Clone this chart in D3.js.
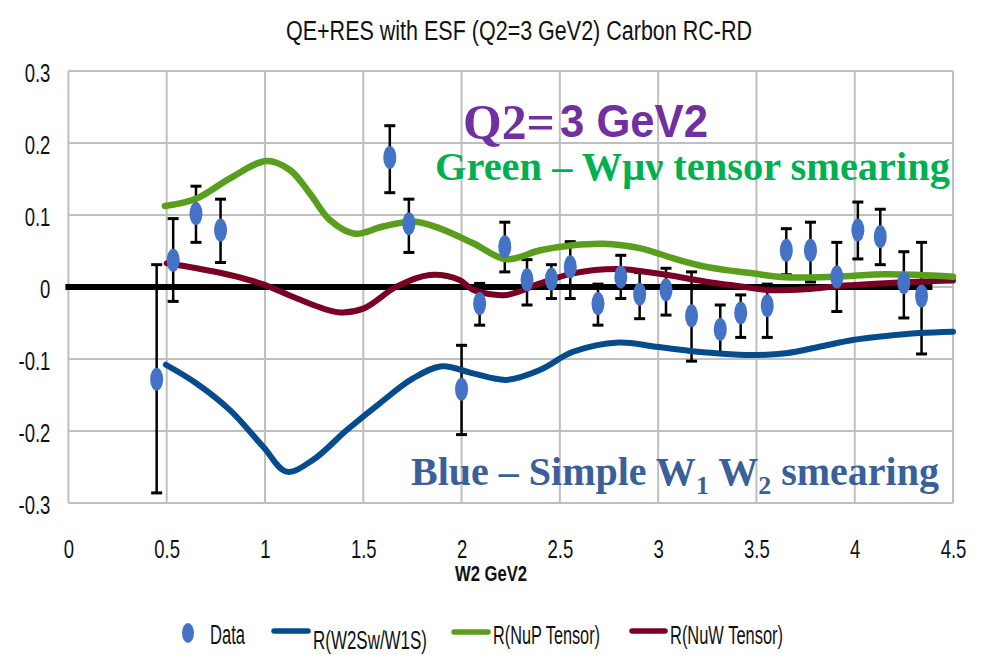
<!DOCTYPE html>
<html><head><meta charset="utf-8">
<script src="https://cdn.jsdelivr.net/npm/d3@7"></script>
<style>html,body{margin:0;padding:0;background:#fff;} svg{display:block;}</style>
</head><body>
<svg id="chart" width="981" height="655"></svg>
<script>
// ---------------- DATA ----------------
const chartTitle = "QE+RES with ESF (Q2=3 GeV2) Carbon  RC-RD";
const xAxisTitle = "W2 GeV2";
const xTicks = [0, 0.5, 1, 1.5, 2, 2.5, 3, 3.5, 4, 4.5];
const xTickLabels = ["0", "0.5", "1", "1.5", "2", "2.5", "3", "3.5", "4", "4.5"];
const yTicks = [0.3, 0.2, 0.1, 0, -0.1, -0.2, -0.3];
const yTickLabels = ["0.3", "0.2", "0.1", "0", "-0.1", "-0.2", "-0.3"];
const seriesNames = ["Data", "R(W2Sw/W1S)", "R(NuP Tensor)", "R(NuW Tensor)"];

// measured data points with error bars
const dataW  = [0.449, 0.533, 0.649, 0.774, 1.635, 1.732, 2.000, 2.092, 2.220, 2.333, 2.457, 2.553, 2.694, 2.810, 2.906, 3.040, 3.170, 3.316, 3.420, 3.555, 3.652, 3.775, 3.909, 4.016, 4.130, 4.250, 4.340];
const dataR  = [-0.128, 0.037, 0.102, 0.079, 0.180, 0.088, -0.142, -0.023, 0.056, 0.010, 0.011, 0.028, -0.023, 0.014, -0.010, -0.004, -0.040, -0.059, -0.036, -0.026, 0.051, 0.051, 0.014, 0.079, 0.070, 0.006, -0.0125];
const dataHi = [0.031, 0.095, 0.140, 0.122, 0.224, 0.122, -0.081, 0.005, 0.090, 0.038, 0.031, 0.063, 0.004, 0.044, 0.020, 0.026, 0.021, -0.025, -0.011, 0.004, 0.081, 0.090, 0.062, 0.118, 0.108, 0.049, 0.062];
const dataLo = [-0.286, -0.020, 0.062, 0.034, 0.131, 0.048, -0.205, -0.053, 0.021, -0.025, -0.016, -0.016, -0.053, -0.016, -0.044, -0.039, -0.103, -0.092, -0.070, -0.070, 0.017, 0.007, -0.034, 0.039, 0.031, -0.043, -0.093];

// R(W2Sw/W1S) (blue)
const blueW = [0.496, 0.652, 0.822, 0.991, 1.11, 1.245, 1.415, 1.584, 1.753, 1.90, 2.059, 2.228, 2.40, 2.567, 2.80, 2.99, 3.245, 3.45, 3.65, 3.82, 3.99, 4.16, 4.33, 4.50];
const blueR = [-0.108, -0.134, -0.171, -0.222, -0.2565, -0.240, -0.199, -0.1615, -0.127, -0.110, -0.120, -0.129, -0.115, -0.090, -0.077, -0.083, -0.091, -0.0945, -0.092, -0.083, -0.0736, -0.068, -0.064, -0.062];

// R(NuP Tensor) (green)
const greenW = [0.491, 0.652, 0.822, 1.008, 1.127, 1.228, 1.33, 1.457, 1.60, 1.753, 1.889, 2.059, 2.228, 2.40, 2.567, 2.72, 2.906, 3.075, 3.245, 3.48, 3.65, 3.906, 4.16, 4.50];
const greenR = [0.1125, 0.123, 0.151, 0.175, 0.1625, 0.130, 0.093, 0.074, 0.084, 0.091, 0.0815, 0.0607, 0.0385, 0.051, 0.058, 0.060, 0.054, 0.040, 0.028, 0.019, 0.0135, 0.0143, 0.0176, 0.0143];

// R(NuW Tensor) (dark red)
const redW = [0.50, 0.652, 0.822, 0.991, 1.16, 1.372, 1.50, 1.669, 1.838, 1.99, 2.059, 2.228, 2.40, 2.567, 2.796, 2.99, 3.245, 3.414, 3.55, 3.75, 3.95, 4.20, 4.50];
const redR = [0.033, 0.026, 0.0167, 0.0037, -0.0157, -0.035, -0.030, 0.0005, 0.0167, 0.0097, -0.004, -0.011, 0.005, 0.019, 0.025, 0.019, 0.0074, 0.001, -0.004, -0.003, 0.002, 0.006, 0.009];

// zero reference line
const zeroW = [0, 4.38];
const zeroR = [0, 0];

// ---------------- CHART ----------------
const svg = d3.select("#chart");
const X0 = 68.4, X1 = 953, Y0 = 503, Y1 = 71;
const x = d3.scaleLinear().domain([0, 4.5]).range([X0, X1]);
const y = d3.scaleLinear().domain([-0.3, 0.3]).range([Y0, Y1]);

const COL = { data: "#4472C4", blue: "#064C8C", green: "#5A9E1E", red: "#7A0024", grid: "#BFBFBF" };
const SANS = "'Liberation Sans', Arial, sans-serif";
const SERIF = "'Liberation Serif', 'Times New Roman', serif";

function squeeze(sel, k) {
  sel.each(function () {
    const L = this.getComputedTextLength();
    this.setAttribute("textLength", L * k);
    this.setAttribute("lengthAdjust", "spacingAndGlyphs");
  });
}
function fitTo(sel, w) {
  sel.attr("textLength", w).attr("lengthAdjust", "spacingAndGlyphs");
}

// title
svg.append("text").attr("x", 519).attr("y", 40).attr("text-anchor", "middle")
  .style("font-family", SANS).style("font-size", "27px").style("fill", "#111")
  .text(chartTitle).call(fitTo, 466);

// gridlines
const grid = svg.append("g");
grid.selectAll("line.h").data(yTicks).join("line")
  .attr("x1", X0).attr("x2", X1).attr("y1", d => y(d)).attr("y2", d => y(d))
  .attr("stroke", COL.grid).attr("stroke-width", 2);
grid.selectAll("line.v").data(xTicks).join("line")
  .attr("x1", d => x(d)).attr("x2", d => x(d)).attr("y1", Y1).attr("y2", Y0)
  .attr("stroke", COL.grid).attr("stroke-width", 2);

// axes (labels only)
const yAxis = svg.append("g").attr("transform", `translate(${X0},0)`)
  .call(d3.axisLeft(y).tickValues(yTicks).tickSize(0).tickPadding(18)
    .tickFormat((d, i) => yTickLabels[i]));
yAxis.select(".domain").remove();
yAxis.selectAll("text").style("font-family", SANS).style("font-size", "25px").style("fill", "#111")
  .attr("y", 2).call(squeeze, 0.74);

const xAxis = svg.append("g").attr("transform", `translate(0,${Y0})`)
  .call(d3.axisBottom(x).tickValues(xTicks).tickSize(0).tickPadding(37)
    .tickFormat((d, i) => xTickLabels[i]));
xAxis.select(".domain").remove();
xAxis.selectAll("text").style("font-family", SANS).style("font-size", "25px").style("fill", "#111")
  .call(squeeze, 0.74);

svg.append("text").attr("x", 491).attr("y", 581).attr("text-anchor", "middle")
  .style("font-family", SANS).style("font-size", "22px").style("font-weight", "bold").style("fill", "#111")
  .text(xAxisTitle).call(fitTo, 72);

// error bars
const pts = dataW.map((w, i) => ({ w, r: dataR[i], hi: dataHi[i], lo: dataLo[i] }));
const eb = svg.append("g").attr("stroke", "#000").attr("stroke-width", 2.5);
eb.selectAll("line.bar").data(pts).join("line")
  .attr("x1", d => x(d.w)).attr("x2", d => x(d.w)).attr("y1", d => y(d.hi)).attr("y2", d => y(d.lo));
eb.selectAll("line.capH").data(pts).join("line")
  .attr("x1", d => x(d.w) - 5.5).attr("x2", d => x(d.w) + 5.5).attr("y1", d => y(d.hi)).attr("y2", d => y(d.hi))
  .attr("stroke-width", 3);
eb.selectAll("line.capL").data(pts).join("line")
  .attr("x1", d => x(d.w) - 5.5).attr("x2", d => x(d.w) + 5.5).attr("y1", d => y(d.lo)).attr("y2", d => y(d.lo))
  .attr("stroke-width", 3);

// lines
const lineGen = d3.line().x(d => x(d[0])).y(d => y(d[1])).curve(d3.curveCatmullRom.alpha(0.5));
const zip = (a, b) => a.map((v, i) => [v, b[i]]);

svg.append("path").attr("d", d3.line().x(d => x(d[0])).y(d => y(d[1]))(zip(zeroW, zeroR)))
  .attr("fill", "none").attr("stroke", "#000").attr("stroke-width", 6).attr("stroke-linecap", "square");
svg.append("path").attr("d", lineGen(zip(redW, redR)))
  .attr("fill", "none").attr("stroke", COL.red).attr("stroke-width", 6).attr("stroke-linecap", "round");
svg.append("path").attr("d", lineGen(zip(greenW, greenR)))
  .attr("fill", "none").attr("stroke", COL.green).attr("stroke-width", 6.5).attr("stroke-linecap", "round");
svg.append("path").attr("d", lineGen(zip(blueW, blueR)))
  .attr("fill", "none").attr("stroke", COL.blue).attr("stroke-width", 6).attr("stroke-linecap", "round");

// data markers
svg.append("g").selectAll("ellipse").data(pts).join("ellipse")
  .attr("cx", d => x(d.w)).attr("cy", d => y(d.r)).attr("rx", 6.5).attr("ry", 11.5)
  .attr("fill", COL.data);

// annotations
svg.append("text").attr("x", 463).attr("y", 139)
  .style("font-family", SERIF).style("font-weight", "bold").style("font-size", "50px").style("fill", "#7030A0")
  .text("Q2=").call(fitTo, 92);
svg.append("text").attr("x", 560).attr("y", 137)
  .style("font-family", SANS).style("font-weight", "bold").style("font-size", "46px").style("fill", "#7030A0")
  .text("3 GeV2").call(fitTo, 148);

svg.append("text").attr("x", 435).attr("y", 180)
  .style("font-family", SERIF).style("font-weight", "bold").style("font-size", "40px").style("fill", "#00B050")
  .text("Green \u2013 W\u03BC\u03BD tensor smearing").call(fitTo, 515);

const bt = svg.append("text").attr("x", 411).attr("y", 485)
  .style("font-family", SERIF).style("font-weight", "bold").style("font-size", "40px").style("fill", "#3A6099");
bt.append("tspan").text("Blue \u2013 Simple W");
bt.append("tspan").attr("dy", 9).style("font-size", "26px").text("1");
bt.append("tspan").attr("dy", -9).text(" W");
bt.append("tspan").attr("dy", 9).style("font-size", "26px").text("2");
bt.append("tspan").attr("dy", -9).text(" smearing");

// legend
const lg = svg.append("g");
lg.append("ellipse").attr("cx", 188).attr("cy", 633).attr("rx", 6).attr("ry", 10).attr("fill", COL.data);
lg.append("text").attr("x", 210).attr("y", 644).style("font-family", SANS).style("font-size", "27px").style("fill", "#111")
  .text(seriesNames[0]).call(fitTo, 35);

const legLines = [
  { c: COL.blue, x1: 274, x2: 308, yy: 631, tx: 313, ty: 649, w: 114, name: seriesNames[1] },
  { c: COL.green, x1: 454, x2: 488, yy: 632, tx: 493, ty: 644, w: 107, name: seriesNames[2] },
  { c: COL.red, x1: 632, x2: 665, yy: 631, tx: 670, ty: 644, w: 113, name: seriesNames[3] }
];
legLines.forEach(L => {
  lg.append("line").attr("x1", L.x1).attr("x2", L.x2).attr("y1", L.yy).attr("y2", L.yy)
    .attr("stroke", L.c).attr("stroke-width", 5.5).attr("stroke-linecap", "round");
  lg.append("text").attr("x", L.tx).attr("y", L.ty).style("font-family", SANS).style("font-size", "26px").style("fill", "#111")
    .text(L.name).call(fitTo, L.w);
});
</script>
</body></html>
